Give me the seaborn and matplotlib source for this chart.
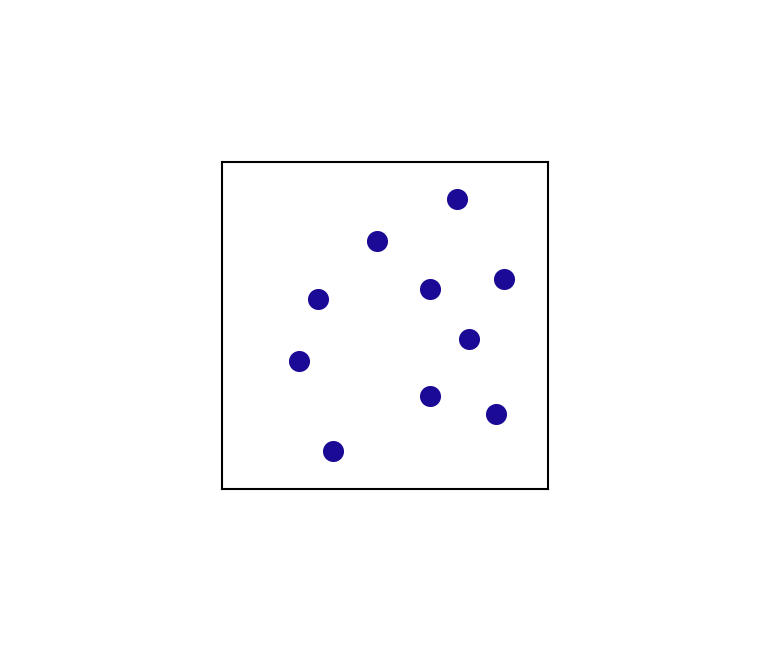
import matplotlib
matplotlib.use("Agg")
import matplotlib.pyplot as plt
import seaborn as sns
import pandas as pd

x_vals = [0.721, 0.475, 0.865, 0.294, 0.638, 0.758, 0.236, 0.638, 0.840, 0.340]
y_vals = [0.887, 0.758, 0.642, 0.581, 0.612, 0.459, 0.391, 0.284, 0.229, 0.116]

df = pd.DataFrame({"x": x_vals, "y": y_vals})

fig = plt.figure(figsize=(7.77, 6.67), dpi=100)
ax = fig.add_axes([222/777, (667-489)/667, 326/777, 327/667])
sns.scatterplot(data=df, x="x", y="y", ax=ax, color="#1a0a96", s=230,
                edgecolor="#1a0a96", linewidth=0)
ax.set_xlim(0, 1)
ax.set_ylim(0, 1)
ax.set_xticks([])
ax.set_yticks([])
ax.set_xlabel("")
ax.set_ylabel("")
for sp in ax.spines.values():
    sp.set_linewidth(1.5)
    sp.set_color("black")
fig.savefig("out.png", dpi=100)
